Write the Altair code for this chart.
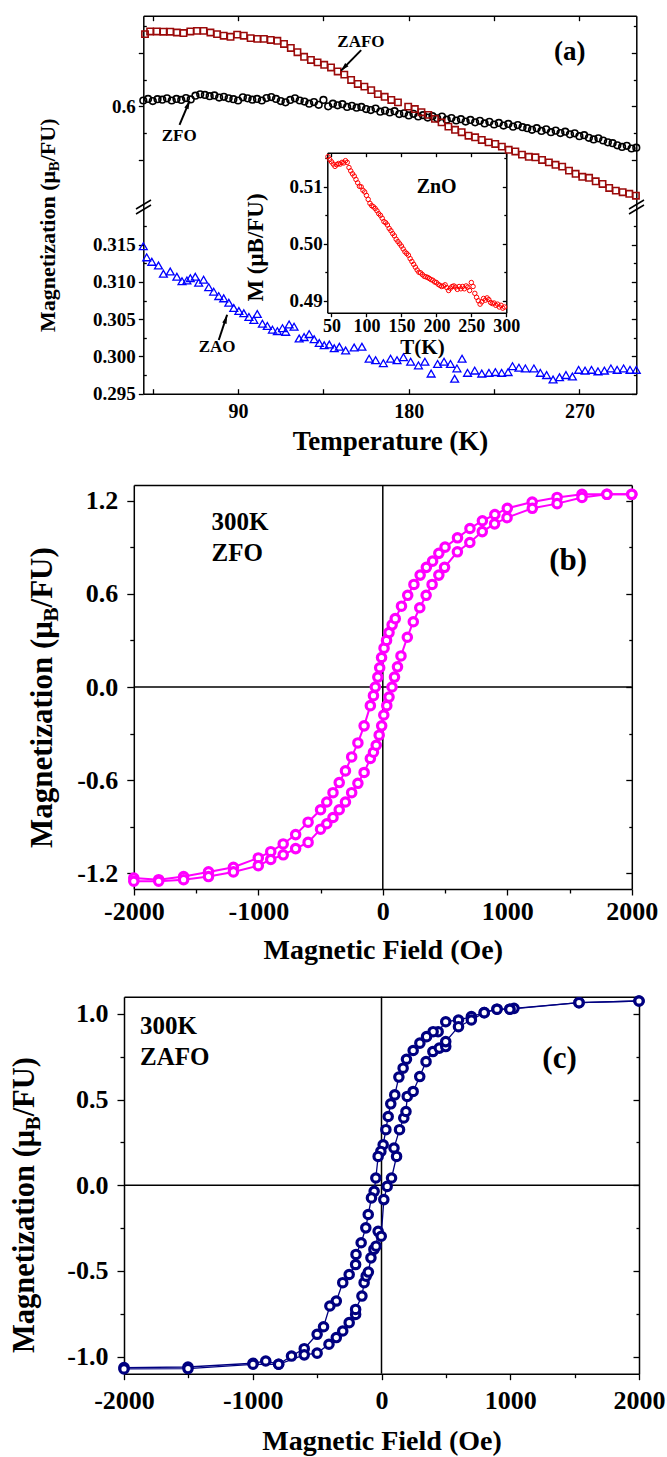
import altair as alt
import pandas as pd

FONT = "Liberation Serif"
VW, VH = 667, 1457

# ---------------- panel (a) data ----------------
ZFO_T = [40, 42.5, 45, 47.5, 50, 52.5, 55, 57.5, 60, 62.5,
         65, 67.5, 70, 72.5, 75, 77.5, 80, 82.5, 85, 87.5,
         90, 92.5, 95, 97.5, 100, 102.5, 105, 107.5, 110, 112.5,
         115, 117.5, 120, 122.5, 125, 127.5, 130, 132.5, 135, 137.5,
         140, 142.5, 145, 147.5, 150, 152.5, 155, 157.5, 160, 162.5,
         165, 167.5, 170, 172.5, 175, 177.5, 180, 182.5, 185, 187.5,
         190, 192.5, 195, 197.5, 200, 202.5, 205, 207.5, 210, 212.5,
         215, 217.5, 220, 222.5, 225, 227.5, 230, 232.5, 235, 237.5,
         240, 242.5, 245, 247.5, 250, 252.5, 255, 257.5, 260, 262.5,
         265, 267.5, 270, 272.5, 275, 277.5, 280, 282.5, 285, 287.5,
         290, 292.5, 295, 297.5, 300]
ZFO_M = [0.6022, 0.6028, 0.6020, 0.6027, 0.6025, 0.6030, 0.6022, 0.6028, 0.6024, 0.6031,
         0.6026, 0.6040, 0.6045, 0.6043, 0.6038, 0.6041, 0.6033, 0.6036, 0.6030, 0.6027,
         0.6022, 0.6034, 0.6030, 0.6025, 0.6028, 0.6022, 0.6031, 0.6035, 0.6028, 0.6020,
         0.6015, 0.6024, 0.6030, 0.6022, 0.6018, 0.6010, 0.6016, 0.6006, 0.6024, 0.6000,
         0.6010, 0.6004, 0.6008, 0.5998, 0.6002, 0.5995, 0.5998, 0.5990, 0.5986, 0.5992,
         0.5980, 0.5984, 0.5977, 0.5982, 0.5971, 0.5974, 0.5966, 0.5972, 0.5962, 0.5967,
         0.5958, 0.5963, 0.5955, 0.5962, 0.5950, 0.5956, 0.5947, 0.5952, 0.5943, 0.5949,
         0.5940, 0.5946, 0.5936, 0.5942, 0.5932, 0.5938, 0.5928, 0.5934, 0.5924, 0.5930,
         0.5922, 0.5918, 0.5912, 0.5918, 0.5908, 0.5914, 0.5903, 0.5909, 0.5900, 0.5905,
         0.5895, 0.5899, 0.5888, 0.5892, 0.5882, 0.5876, 0.5880, 0.5872, 0.5865, 0.5862,
         0.5854, 0.5848, 0.5852, 0.5842, 0.5845]

ZAFO_T = [40.9, 43.6, 47.1, 50.6, 54.2, 57.7, 61.2, 64.8, 68.3, 71.8,
          75.4, 78.9, 82.4, 86.0, 89.5, 93.0, 96.6, 100.1, 103.6, 107.2,
          110.7, 114.2, 117.8, 121.3, 124.8, 128.4, 131.9, 135.4, 139.0, 142.5,
          146.0, 149.6, 153.1, 156.6, 160.2, 163.7, 167.3, 170.8, 174.3,
          179.7, 183.2, 186.7, 190.3, 193.8, 197.3, 200.9, 204.4, 207.9, 211.5,
          215.0, 218.5, 222.1, 225.6, 229.1, 232.7, 236.2, 239.7, 243.3, 246.8,
          250.3, 253.9, 257.4, 260.9, 264.5, 268.0, 271.5, 275.1, 278.6, 282.2,
          285.7, 289.2, 292.8, 296.3, 299.8]
ZAFO_M = [0.6271, 0.6281, 0.6281, 0.6280, 0.6280, 0.6277, 0.6275, 0.6281, 0.6283, 0.6283,
          0.6277, 0.6271, 0.6265, 0.6261, 0.6269, 0.6265, 0.6256, 0.6253, 0.6253, 0.6249,
          0.6246, 0.6234, 0.6219, 0.6203, 0.6186, 0.6174, 0.6165, 0.6156, 0.6146, 0.6131,
          0.6119, 0.6099, 0.6084, 0.6074, 0.6061, 0.6046, 0.6036, 0.6024, 0.6015,
          0.5999, 0.5990, 0.5978, 0.5968, 0.5953, 0.5940, 0.5924, 0.5912, 0.5903, 0.5890,
          0.5884, 0.5874, 0.5865, 0.5859, 0.5849, 0.5837, 0.5831, 0.5819, 0.5811, 0.5809,
          0.5799, 0.5790, 0.5781, 0.5774, 0.5759, 0.5747, 0.5736, 0.5732, 0.5719, 0.5709,
          0.5694, 0.5684, 0.5678, 0.5672, 0.5665]

ZAO_T = [40, 41.8, 44.5, 48, 50.6, 54.2, 57.7, 60.4, 63, 64.8,
         67.4, 69.2, 71.8, 74.5, 77.1, 79.8, 82.4, 85.1, 87.7, 90.4,
         93, 95.7, 98.3, 100.1, 102.8, 105.4, 108.1, 110.7, 113.4, 115.1,
         116.9, 119.5, 122.2, 124.8, 127.5, 130.1, 132.8, 135.4, 138.1, 140.7,
         143.4, 146.7, 151.2, 155.3, 159.1, 162.5, 166.6, 170.4, 173.8, 177.2,
         181, 185.1, 188.5, 191.8, 195.2, 198.6, 202, 204.2, 205.4, 208.1,
         211, 214.8, 218.5, 222.3, 225.7, 229, 232.4, 234.7, 238.1, 241.5,
         246, 249.4, 252.7, 256.1, 259.5, 262.9, 266.3, 269.6, 273, 276.4,
         279.8, 283.2, 286.6, 289.9, 293.3, 296.7, 300]
ZAO_M = [0.3148, 0.3133, 0.3127, 0.3122, 0.3111, 0.3114, 0.3107, 0.3101, 0.3102, 0.3105,
         0.3107, 0.3099, 0.3103, 0.3093, 0.3087, 0.3081, 0.3078, 0.3072, 0.3065, 0.3061,
         0.3058, 0.3053, 0.3049, 0.3057, 0.3044, 0.3041, 0.3036, 0.3034, 0.3038, 0.3033,
         0.3043, 0.3040, 0.3024, 0.3026, 0.3030, 0.3023, 0.3018, 0.3015, 0.3016, 0.3011,
         0.3013, 0.3008, 0.3012, 0.3013, 0.2997, 0.2995, 0.2991, 0.2997, 0.2995, 0.2999,
         0.2993, 0.2988, 0.2993, 0.2977, 0.2990, 0.2993, 0.2990, 0.2970, 0.2984, 0.2997,
         0.2978, 0.2981, 0.2977, 0.2978, 0.2979, 0.2978, 0.2979, 0.2987, 0.2985, 0.2984,
         0.2984, 0.2978, 0.2975, 0.2969, 0.2972, 0.2975, 0.2973, 0.2982, 0.2981, 0.2982,
         0.2980, 0.2981, 0.2984, 0.2982, 0.2984, 0.2982, 0.2982]

ZNO_T = [45, 47.5, 50, 52.5, 55, 57.5, 60, 62.5, 65, 67.5,
         70, 72.5, 75, 77.5, 80, 82.5, 85, 87.5, 90, 92.5,
         95, 97.5, 100, 102.5, 105, 107.5, 110, 112.5, 115, 117.5,
         120, 122.5, 125, 127.5, 130, 132.5, 135, 137.5, 140, 142.5,
         145, 147.5, 150, 152.5, 155, 157.5, 160, 162.5, 165, 167.5,
         170, 172.5, 175, 177.5, 180, 182.5, 185, 187.5, 190, 192.5,
         195, 197.5, 200, 202.5, 205, 207.5, 210, 212.5, 215, 217.5,
         220, 222.5, 225, 227.5, 230, 232.5, 235, 237.5, 240, 242.5,
         245, 247.5, 250, 252.5, 255, 257.5, 260, 262.5, 265, 267.5,
         270, 272.5, 275, 277.5, 280, 282.5, 285, 287.5, 290, 292.5,
         295, 297.5]
ZNO_M = [0.5153, 0.5148, 0.5144, 0.5140, 0.5136, 0.5139, 0.5141, 0.5140, 0.5143, 0.5142,
         0.5146, 0.5143, 0.5134, 0.5128, 0.5123, 0.5119, 0.5113, 0.5107, 0.5101, 0.5100,
         0.5094, 0.5091, 0.5085, 0.5078, 0.5071, 0.5067, 0.5065, 0.5062, 0.5058, 0.5053,
         0.5050, 0.5045, 0.5039, 0.5037, 0.5033, 0.5027, 0.5023, 0.5018, 0.5014, 0.5008,
         0.5004, 0.5000, 0.4996, 0.4991, 0.4986, 0.4983, 0.4980, 0.4974, 0.4969, 0.4964,
         0.4959, 0.4954, 0.4950, 0.4949, 0.4946, 0.4943, 0.4942, 0.4941, 0.4939, 0.4937,
         0.4936, 0.4933, 0.4932, 0.4929, 0.4927, 0.4925, 0.4926, 0.4928, 0.4923, 0.4918,
         0.4922, 0.4925, 0.4926, 0.4924, 0.4920, 0.4925, 0.4921, 0.4925, 0.4921, 0.4926,
         0.4924, 0.4918, 0.4932, 0.4925, 0.4913, 0.4906, 0.4900, 0.4894, 0.4898, 0.4904,
         0.4901, 0.4905, 0.4902, 0.4897, 0.4895, 0.4896, 0.4892, 0.4894, 0.4889, 0.4892,
         0.4887, 0.4889]

# annotation positions (data coordinates)
A_LABELS = ["ZAFO", "ZFO", "ZAO"]
A_LABEL_T = [154.8, 58.9, 78.9]
A_LABEL_M = [0.6240, 0.5890, 0.3013]
A_ARROW_T1 = [154.9, 59.1, 79.8]
A_ARROW_M1 = [0.6211, 0.5931, 0.3022]
A_ARROW_T2 = [144.3, 64.4, 84.2]
A_ARROW_M2 = [0.6134, 0.6021, 0.3056]
A_HEAD_T = [145.8, 63.6, 83.5]
A_HEAD_M = [0.6145, 0.6007, 0.3050]
A_HEAD_ANGLE = [224, 23, 19]

# ---------------- panel (b) data ----------------
B_UP_H = [-2000, -1800, -1600, -1400, -1200, -1000, -900, -800, -700, -600,
          -500, -450, -400, -350, -300, -250, -200, -150, -100, -75,
          -60, -40, -25, -10, 10, 30, 50, 75, 100, 150,
          200, 250, 300, 350, 400, 450, 500, 600, 700, 800,
          900, 1000, 1200, 1400, 1600, 1800, 2000]
B_UP_M = [-1.23, -1.24, -1.22, -1.19, -1.16, -1.10, -1.06, -1.01, -0.95, -0.87,
          -0.79, -0.74, -0.68, -0.615, -0.54, -0.45, -0.36, -0.25, -0.12, -0.056,
          0.0, 0.064, 0.124, 0.19, 0.25, 0.30, 0.35, 0.40, 0.44, 0.52,
          0.59, 0.66, 0.72, 0.77, 0.81, 0.86, 0.90, 0.96, 1.02, 1.07,
          1.11, 1.15, 1.19, 1.22, 1.24, 1.24, 1.24]
B_LOW_H = [-2000, -1800, -1600, -1400, -1200, -1000, -900, -800, -700, -600,
           -500, -450, -400, -350, -300, -250, -200, -150, -100, -75,
           -53, -29, -9, 8, 32, 50, 74, 94, 118, 146,
           197, 245, 297, 348, 396, 450, 496, 599, 699, 799,
           898, 998, 1201, 1400, 1600, 1800, 2000]
B_LOW_M = [-1.25, -1.25, -1.24, -1.22, -1.19, -1.15, -1.11, -1.08, -1.04, -1.0,
           -0.915, -0.88, -0.84, -0.79, -0.74, -0.68, -0.62, -0.55, -0.46, -0.42,
           -0.375, -0.31, -0.25, -0.18, -0.12, -0.065, 0.0, 0.064, 0.13, 0.20,
           0.32, 0.42, 0.51, 0.59, 0.66, 0.72, 0.77, 0.87, 0.93, 1.0,
           1.05, 1.09, 1.15, 1.18, 1.22, 1.24, 1.24]
B_TEXT = ["300K", "ZFO"]
B_TEXT_H = [-1376, -1376]
B_TEXT_M = [1.064, 0.862]
B_TAG = ["(b)"]
B_TAG_H = [1489]
B_TAG_M = [0.811]

# ---------------- panel (c) data ----------------
C_UP_H = [2000, 1534, 1029, 997, 897, 798, 698, 598, 499, 440,
          401, 350, 298, 246, 194, 168, 135, 103, 72, 52,
          34, 13, -5, -26, -44, -57, -78, -103, -122, -158,
          -198, -201, -251, -301, -351, -401, -450, -500, -600, -699,
          -799, -899, -998, -1503, -2000]
C_UP_M = [1.075, 1.065, 1.032, 1.027, 1.027, 1.007, 0.984, 0.964, 0.954, 0.896,
          0.896, 0.867, 0.829, 0.786, 0.735, 0.683, 0.631, 0.527, 0.475, 0.401,
          0.324, 0.236, 0.197, 0.168, 0.042, -0.036, -0.074, -0.171, -0.249, -0.336,
          -0.404, -0.463, -0.521, -0.569, -0.676, -0.705, -0.826, -0.870, -0.954, -0.997,
          -1.045, -1.026, -1.039, -1.061, -1.064]
C_LOW_H = [-2000, -1503, -998, -799, -600, -500, -408, -351, -301, -251,
           -201, -201, -152, -135, -119, -102, -82, -59, -42, -26,
           -2, 18, 44, 78, 117, 97, 140, 173, 190, 200,
           246, 297, 346, 399, 449, 499, 499, 598, 698, 798,
           897, 997, 1534, 2000]
C_LOW_M = [-1.072, -1.07, -1.045, -1.045, -0.99, -0.98, -0.928, -0.889, -0.851, -0.802,
           -0.754, -0.725, -0.647, -0.569, -0.531, -0.507, -0.424, -0.375, -0.356, -0.269,
           -0.298, -0.084, -0.007, 0.042, 0.168, 0.217, 0.324, 0.392, 0.430, 0.518,
           0.547, 0.634, 0.721, 0.780, 0.800, 0.809, 0.838, 0.925, 0.964, 1.007,
           1.027, 1.027, 1.065, 1.075]
C_TEXT = ["300K", "ZAFO"]
C_TEXT_H = [-1876, -1876]
C_TEXT_M = [0.929, 0.749]
C_TAG = ["(c)"]
C_TAG_H = [1383]
C_TAG_M = [0.737]

Y_TITLE_PARTS = ["Magnetization (μ", "B", "/FU)"]


# ---------------- helpers ----------------
def frame(xs, ys, **extra):
    n = min(len(xs), len(ys))
    d = {"x": list(xs[:n]), "y": list(ys[:n]), "i": list(range(n))}
    d.update(extra)
    return pd.DataFrame(d)


def ax(**kw):
    base = dict(grid=False, domain=False, labelFont=FONT, labelFontWeight="bold",
                labelColor="black", tickColor="black", tickWidth=1.3,
                titleFont=FONT, titleFontWeight="bold", titleColor="black",
                domainColor="black", domainWidth=1.5)
    base.update(kw)
    return alt.Axis(**base)


def ticks_only(orient, values, size, offset=0, domain=False):
    return ax(orient=orient, values=values, labels=False, tickSize=size,
              offset=offset, title=None, domain=domain)


def domain_only(orient, values, offset):
    return ax(orient=orient, values=values, labels=False, ticks=False, tickSize=0,
              offset=offset, title=None, domain=True)


def axis_layer(xscale, yscale, xaxis, yaxis, x0, y0):
    df = pd.DataFrame({"x": [x0], "y": [y0]})
    return alt.Chart(df).mark_point(opacity=0).encode(
        x=alt.X("x:Q", scale=xscale, axis=xaxis),
        y=alt.Y("y:Q", scale=yscale, axis=yaxis))


def deco_rule(x1, y1, x2, y2):
    return alt.Chart(pd.DataFrame({"a": [0]})).mark_rule(color="black", strokeWidth=1.5).encode(
        x=alt.value(x1), y=alt.value(y1), x2=alt.value(x2), y2=alt.value(y2))


def pts_layer(df, xs, ys, shape, color, size, sw):
    return alt.Chart(df).mark_point(shape=shape, filled=False, color=color, size=size,
                                    strokeWidth=sw, opacity=1).encode(
        x=alt.X("x:Q", scale=xs, axis=None), y=alt.Y("y:Q", scale=ys, axis=None))


def text_layer(xs_list, ys_list, labels, xs, ys, size, align="center"):
    return alt.Chart(pd.DataFrame({"x": xs_list, "y": ys_list, "t": labels})).mark_text(
        font=FONT, fontWeight="bold", fontSize=size, color="black", align=align,
        baseline="middle").encode(
        x=alt.X("x:Q", scale=xs, axis=None), y=alt.Y("y:Q", scale=ys, axis=None), text="t:N")


def rotated_title(x_base, y_start, fs):
    """Vertical axis title with a subscript B, drawn as three rotated text pieces."""
    w1 = 7.305 * fs          # advance of "Magnetization (μ" (Times-bold metrics)
    sub = 0.68 * fs
    w2 = 0.667 * sub         # advance of subscript "B"
    pieces = [(Y_TITLE_PARTS[0], x_base, y_start, fs),
              (Y_TITLE_PARTS[1], x_base + 0.2 * fs, y_start - w1, sub),
              (Y_TITLE_PARTS[2], x_base, y_start - w1 - w2, fs)]
    out = []
    for txt, xx, yy, size in pieces:
        out.append(alt.Chart(pd.DataFrame({"a": [0]})).mark_text(
            text=txt, font=FONT, fontWeight="bold", fontSize=size, color="black",
            align="left", baseline="alphabetic", angle=270).encode(
            x=alt.value(xx), y=alt.value(yy)))
    return out


def off_left(x):
    return -x


def off_right(x):
    return -(VW - x)


def off_bottom(y):
    return -(VH - y)


def off_top(y):
    return -y


NUM_EXPR1 = "(datum.value < 0 ? '-' : '') + format(abs(datum.value), '.1f')"
NUM_EXPR0 = "(datum.value < 0 ? '-' : '') + format(abs(datum.value), 'd')"

# ---------------- panel (a) ----------------
AX0, AX1, AY0, AYB, AY1 = 143.3, 636.3, 15.7, 203.7, 393.7
A_X = alt.Scale(domain=[40, 300], range=[AX0, AX1], nice=False, zero=False)
A_Y = alt.Scale(domain=[0.295, 0.3205, 0.5635, 0.634], range=[AY1, AYB, AYB, AY0],
                nice=False, zero=False)
IX0, IX1, IY0, IY1 = 327.3, 506.3, 152.7, 312.7
I_X = alt.Scale(domain=[44, 300], range=[IX0, IX1], nice=False, zero=False)
I_Y = alt.Scale(domain=[0.4879, 0.516], range=[IY1, IY0], nice=False, zero=False)

A_MAJ_Y = [0.295, 0.300, 0.305, 0.310, 0.315, 0.58, 0.60, 0.62]
A_MIN_Y = [0.2975, 0.3025, 0.3075, 0.3125, 0.3175, 0.59, 0.61, 0.63]
A_TICK_X = [45, 90, 135, 180, 225, 270]
I_TICK_X = [50, 100, 150, 200, 250, 300]

layers = [
    pts_layer(frame(ZFO_T, ZFO_M), A_X, A_Y, "circle", "black", 44, 1.6),
    pts_layer(frame(ZAFO_T, ZAFO_M), A_X, A_Y, "square", "#9b0a0a", 40, 1.6),
    pts_layer(frame(ZAO_T, ZAO_M), A_X, A_Y, "triangle-up", "#0000ff", 62, 1.3),
    pts_layer(frame(ZNO_T, ZNO_M), I_X, I_Y, "circle", "#ff0000", 20, 1.0),
    alt.Chart(pd.DataFrame({"x": A_ARROW_T1, "y": A_ARROW_M1, "x2": A_ARROW_T2, "y2": A_ARROW_M2}))
    .mark_rule(color="black", strokeWidth=2).encode(
        x=alt.X("x:Q", scale=A_X, axis=None), y=alt.Y("y:Q", scale=A_Y, axis=None),
        x2="x2:Q", y2="y2:Q"),
    alt.Chart(pd.DataFrame({"x": A_HEAD_T, "y": A_HEAD_M, "ang": A_HEAD_ANGLE}))
    .mark_point(shape="M0,-1L0.55,1L-0.55,1Z", filled=True, color="black", size=70, opacity=1)
    .encode(x=alt.X("x:Q", scale=A_X, axis=None), y=alt.Y("y:Q", scale=A_Y, axis=None),
            angle=alt.Angle("ang:Q", scale=None)),
    text_layer(A_LABEL_T, A_LABEL_M, A_LABELS, A_X, A_Y, 17),
    text_layer([264.9], [0.6205], ["(a)"], A_X, A_Y, 27),
    text_layer([200.4], [0.51], ["ZnO"], I_X, I_Y, 20),
    deco_rule(136, 209, 151, 200), deco_rule(136, 214, 151, 205),
    deco_rule(629, 209, 644, 200), deco_rule(629, 214, 644, 205),
    axis_layer(A_X, A_Y,
               ax(orient="bottom", offset=off_bottom(AY1), values=[90, 180, 270], ticks=False,
                  tickSize=0, labelFontSize=20, labelPadding=8, labelFlush=False, domain=True,
                  title="Temperature (K)", titleFontSize=27, titleX=390, titleY=47.3,
                  titleBaseline="middle"),
               ax(orient="left", offset=off_left(AX0), values=A_MAJ_Y, tickSize=5,
                  labelFontSize=19, labelPadding=3, labelFlush=False, domain=True,
                  labelExpr="datum.value > 0.5 ? ((datum.value > 0.59 && datum.value < 0.61) ? '0.6' : '') : format(datum.value, '.3f')",
                  title=None),
               100, 0.3),
    axis_layer(A_X, A_Y, ticks_only("top", A_TICK_X, 5, offset=off_top(AY1)),
               ticks_only("right", A_MIN_Y, 3, offset=off_right(AX0)), 100, 0.3),
    axis_layer(A_X, A_Y, ticks_only("bottom", A_TICK_X, 5, offset=off_bottom(AY0), domain=True),
               ticks_only("left", A_MAJ_Y, 5, offset=off_left(AX1), domain=True), 100, 0.3),
    axis_layer(A_X, A_Y, None, ticks_only("left", A_MIN_Y, 3, offset=off_left(AX1)), 100, 0.3),
    axis_layer(I_X, I_Y,
               ax(orient="bottom", offset=off_bottom(IY1), values=I_TICK_X, tickSize=4,
                  labelFontSize=18, labelPadding=1, labelFlush=False, domain=True,
                  title="T(K)", titleFontSize=21, titleX=422, titleY=35, titleBaseline="middle"),
               ax(orient="left", offset=off_left(IX0), values=[0.49, 0.50, 0.51], format=".2f",
                  tickSize=4, labelFontSize=19, labelPadding=1, labelFlush=False, domain=True,
                  title="M (μB/FU)", titleFontSize=23, titleX=-72.3, titleY=247,
                  titleBaseline="middle"),
               100, 0.5),
    axis_layer(I_X, I_Y, ticks_only("bottom", I_TICK_X, 4, offset=off_bottom(IY0), domain=True),
               ticks_only("left", [0.49, 0.50, 0.51], 4, offset=off_left(IX1), domain=True), 100, 0.5),
    axis_layer(I_X, I_Y, None, ticks_only("left", [0.495, 0.505, 0.515], 2.5, offset=off_left(IX0)), 100, 0.5),
    axis_layer(I_X, I_Y, None, ticks_only("left", [0.495, 0.505, 0.515], 2.5, offset=off_left(IX1)), 100, 0.5),
]
layers += rotated_title(54.8, 332, 22)


# ---------------- loops (b), (c) ----------------
def loop_layers(x0, x1, yb, yt, ydom, up_h, up_m, low_h, low_m, color, ymaj, ymin,
                texts, tags, title_pos, xlabel_pad, xtitle_y, line_w):
    X = alt.Scale(domain=[-2000, 2000], range=[x0, x1], nice=False, zero=False)
    Y = alt.Scale(domain=ydom, range=[yb, yt], nice=False, zero=False)
    df = pd.concat([frame(up_h, up_m, b=["up"] * len(up_h)),
                    frame(low_h, low_m, b=["low"] * len(low_h))], ignore_index=True)
    xmaj = [-2000, -1000, 0, 1000, 2000]
    xmin = [-1500, -500, 500, 1500]
    t_lbl, t_h, t_m = texts
    g_lbl, g_h, g_m = tags
    out = [
        alt.Chart(pd.DataFrame({"x": [0]})).mark_rule(color="black", strokeWidth=1.5).encode(
            x=alt.X("x:Q", scale=X, axis=None), y=alt.value(yt), y2=alt.value(yb)),
        alt.Chart(pd.DataFrame({"y": [0]})).mark_rule(color="black", strokeWidth=1.5).encode(
            y=alt.Y("y:Q", scale=Y, axis=None), x=alt.value(x0), x2=alt.value(x1)),
        alt.Chart(df).mark_line(color=color, strokeWidth=line_w).encode(
            x=alt.X("x:Q", scale=X, axis=None), y=alt.Y("y:Q", scale=Y, axis=None),
            detail="b:N", order="i:Q"),
        alt.Chart(df).mark_point(shape="circle", filled=True, fill="white", stroke=color,
                                 strokeWidth=3.2, size=70, opacity=1).encode(
            x=alt.X("x:Q", scale=X, axis=None), y=alt.Y("y:Q", scale=Y, axis=None)),
        text_layer(t_h, t_m, t_lbl, X, Y, 25, align="left"),
        text_layer(g_h, g_m, g_lbl, X, Y, 31),
        axis_layer(X, Y,
                   ax(orient="bottom", offset=off_bottom(yb), values=xmaj, tickSize=6,
                      labelFontSize=26, labelPadding=xlabel_pad, labelFlush=False,
                      labelExpr=NUM_EXPR0, domain=True,
                      title="Magnetic Field (Oe)", titleFontSize=28, titleX=(x0 + x1) / 2,
                      titleY=xtitle_y, titleBaseline="middle"),
                   ax(orient="left", offset=off_left(x0), values=ymaj, tickSize=7,
                      labelFontSize=26, labelPadding=9, labelFlush=False, labelExpr=NUM_EXPR1,
                      domain=True, title=None),
                   0, 0),
        axis_layer(X, Y, ticks_only("bottom", xmin, 4, offset=off_bottom(yb)),
                   ticks_only("left", ymin, 4, offset=off_left(x0)), 0, 0),
        axis_layer(X, Y, domain_only("bottom", xmaj, off_bottom(yt)),
                   ticks_only("left", ymaj, 6, offset=off_left(x1), domain=True), 0, 0),
        axis_layer(X, Y, None, ticks_only("left", ymin, 3, offset=off_left(x1)), 0, 0),
    ]
    out += rotated_title(*title_pos)
    return out


layers += loop_layers(133.8, 631.8, 889, 485, [-1.3, 1.3], B_UP_H, B_UP_M, B_LOW_H, B_LOW_M,
                      "#ff00ff", [-1.2, -0.6, 0, 0.6, 1.2], [-0.9, -0.3, 0.3, 0.9],
                      (B_TEXT, B_TEXT_H, B_TEXT_M), (B_TAG, B_TAG_H, B_TAG_M),
                      (51.5, 848, 31), 3, 61, 2)

layers += loop_layers(124, 639, 1373.7, 996.7, [-1.1, 1.1], C_UP_H, C_UP_M, C_LOW_H, C_LOW_M,
                      "#000080", [-1.0, -0.5, 0, 0.5, 1.0], [-0.75, -0.25, 0.25, 0.75],
                      (C_TEXT, C_TEXT_H, C_TEXT_M), (C_TAG, C_TAG_H, C_TAG_M),
                      (34.3, 1353, 30.5), 8, 67.3, 1.3)

chart = alt.layer(*layers).resolve_scale(x="independent", y="independent").properties(
    width=VW, height=VH, padding=0, autosize=alt.AutoSizeParams(type="none")
).configure_view(strokeWidth=0)

chart.save("out.html", embed_options={"renderer": "svg", "actions": False})
